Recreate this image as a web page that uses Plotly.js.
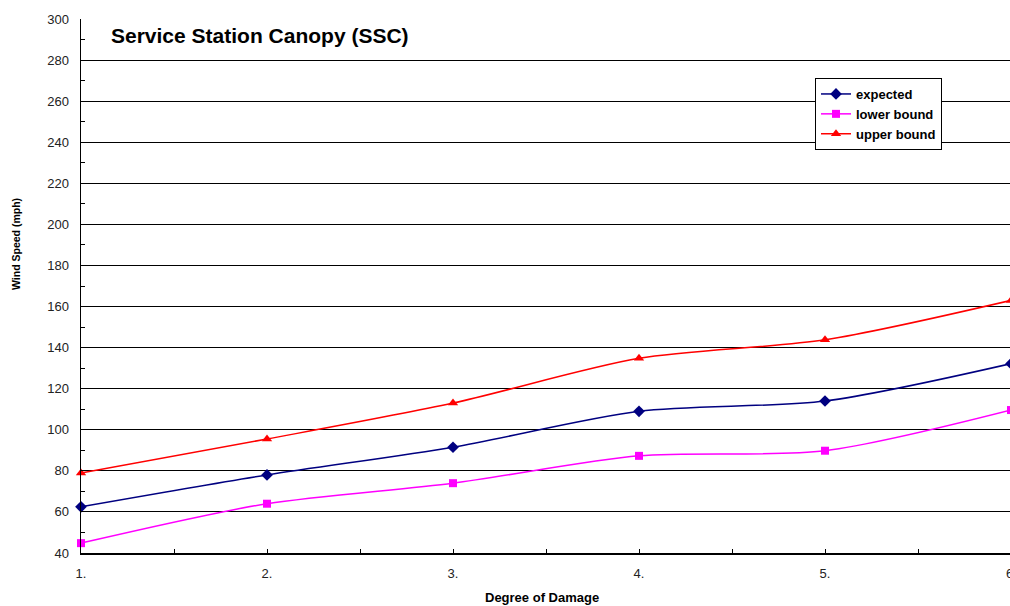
<!DOCTYPE html>
<html>
<head>
<meta charset="utf-8">
<script src="https://cdn.plot.ly/plotly-3.0.1.min.js"></script>
<style>
  html, body { margin: 0; padding: 0; overflow: hidden; background: #fff; width: 1010px; height: 606px; }
  #chart { width: 1012px; height: 606px; }
</style>
</head>
<body>
<div id="chart"></div>
<script>
const damageLevels = [1, 2, 3, 4, 5, 6];
const damageLabels = ['1.', '2.', '3.', '4.', '5.', '6.'];
const expected   = [62.5, 78, 91.5, 109, 114, 132.2];
const lowerBound = [44.8, 64, 74, 87.3, 89.8, 109.6];
const upperBound = [79, 95.5, 113, 134.8, 143.8, 163];

const FONT = 'Arial, "Liberation Sans", sans-serif';

const traces = [
  {
    x: damageLevels, y: expected, name: 'expected', type: 'scatter', mode: 'lines+markers',
    line: { color: '#000080', width: 1.5, shape: 'spline', smoothing: 0.8 },
    marker: { symbol: 'diamond', size: 9, color: '#000080' }, cliponaxis: false
  },
  {
    x: damageLevels, y: lowerBound, name: 'lower bound', type: 'scatter', mode: 'lines+markers',
    line: { color: '#FF00FF', width: 1.5, shape: 'spline', smoothing: 0.8 },
    marker: { symbol: 'square', size: 8, color: '#FF00FF' }, cliponaxis: false
  },
  {
    x: damageLevels, y: upperBound, name: 'upper bound', type: 'scatter', mode: 'lines+markers',
    line: { color: '#FF0000', width: 1.5, shape: 'spline', smoothing: 0.8 },
    marker: { symbol: 'triangle-up', size: 9, color: '#FF0000' }, cliponaxis: false
  }
];

// last tick label sits on the page edge and is drawn as text so it can be cut like the original
const edgeLabel = {
  text: damageLabels[damageLabels.length - 1], xref: 'x', yref: 'paper',
  x: damageLevels[damageLevels.length - 1], y: -(573 - 553) / 534, xanchor: 'center', yanchor: 'middle',
  showarrow: false, font: { family: FONT, size: 13, color: '#222' }
};

const layout = {
  width: 1012, height: 606,
  margin: { l: 81, r: 1, t: 19, b: 53 },
  paper_bgcolor: '#ffffff', plot_bgcolor: '#ffffff',
  font: { family: FONT, size: 13, color: '#222' },
  showlegend: true,
  legend: {
    x: (815 - 81) / 930, y: (553 - 78) / 534, xanchor: 'left', yanchor: 'top',
    bgcolor: '#ffffff', bordercolor: '#000000', borderwidth: 1,
    font: { family: FONT, size: 13, color: '#000', weight: 'bold' },
    itemwidth: 30, tracegroupgap: 0
  },
  xaxis: {
    range: [1, 6], tickmode: 'array', tickvals: damageLevels.slice(0, -1), ticktext: damageLabels.slice(0, -1),
    showgrid: false, zeroline: false, showline: true, linecolor: '#000', linewidth: 1.5,
    ticks: 'inside', ticklen: 4, tickcolor: '#000', tickwidth: 1,
    minor: { dtick: 0.5, tick0: 1, ticks: 'inside', ticklen: 4, tickcolor: '#000', showgrid: false },
    tickfont: { family: FONT, size: 13, color: '#222' }, ticklabelstandoff: 8,
    fixedrange: true
  },
  yaxis: {
    range: [40, 300], dtick: 20, tick0: 40,
    showgrid: true, gridcolor: '#000', gridwidth: 1, zeroline: false,
    showline: true, linecolor: '#000', linewidth: 1.5,
    ticks: 'inside', ticklen: 4, tickcolor: '#000',
    minor: { dtick: 10, ticks: 'inside', ticklen: 4, tickcolor: '#000', showgrid: false },
    tickfont: { family: FONT, size: 13, color: '#222' }, ticklabelstandoff: 8,
    fixedrange: true
  },
  annotations: [
    edgeLabel,
    {
      text: 'Service Station Canopy (SSC)', xref: 'paper', yref: 'paper',
      x: (109 - 81) / 930, y: 1 - (36 - 19) / 534, xanchor: 'left', yanchor: 'middle',
      showarrow: false, font: { family: FONT, size: 21, color: '#000', weight: 'bold' }
    },
    {
      text: 'Wind Speed (mph)', xref: 'paper', yref: 'paper',
      x: -(81 - 16) / 930, y: (553 - 244) / 534, xanchor: 'center', yanchor: 'middle',
      textangle: -90, showarrow: false, font: { family: FONT, size: 10.5, color: '#000', weight: 'bold' }
    },
    {
      text: 'Degree of Damage', xref: 'paper', yref: 'paper',
      x: (542 - 81) / 930, y: -(597 - 553) / 534, xanchor: 'center', yanchor: 'middle',
      showarrow: false, font: { family: FONT, size: 13, color: '#000', weight: 'bold' }
    }
  ]
};

Plotly.newPlot('chart', traces, layout, { displayModeBar: false, staticPlot: true });
</script>
</body>
</html>
